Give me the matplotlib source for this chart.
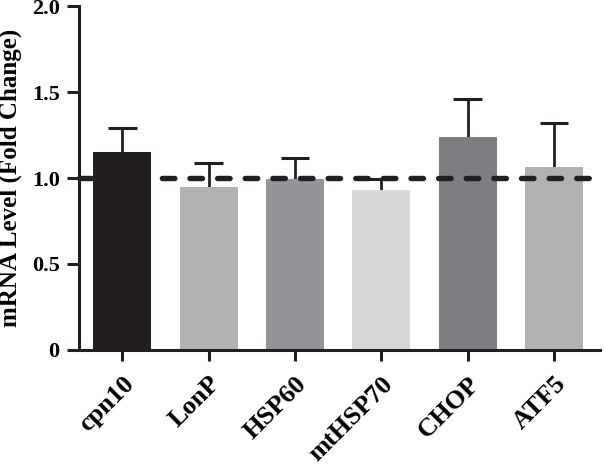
import matplotlib
matplotlib.use('Agg')
import matplotlib.pyplot as plt

genes = ['cpn10', 'LonP', 'HSP60', 'mtHSP70', 'CHOP', 'ATF5']
fold_change = [1.153, 0.95, 0.992, 0.93, 1.238, 1.066]
sem = [0.136, 0.135, 0.122, 0.064, 0.222, 0.252]
bar_colors = ['#231f20', '#b1b2b4', '#939598', '#d7d8da', '#7d7e82', '#b1b2b4']
yticks = [0, 0.5, 1.0, 1.5, 2.0]
ytick_labels = ['0', '0.5', '1.0', '1.5', '2.0']

plt.rcParams['font.family'] = ['Liberation Serif', 'DejaVu Serif']
plt.rcParams['font.weight'] = 'bold'

fig = plt.figure(figsize=(6.04, 4.66), dpi=100)
ax = fig.add_axes([0.131, 0.249, 0.862, 0.738])

x = list(range(len(genes)))
ax.bar(x, fold_change, width=0.67, color=bar_colors, zorder=2)
# only the upper half of each error bar is shown
tops = [v + e for v, e in zip(fold_change, sem)]
ax.vlines(x, fold_change, tops, color='#231f20', lw=2, zorder=1)
ax.hlines(tops, [i - 0.165 for i in x], [i + 0.165 for i in x],
          color='#231f20', lw=2.2, zorder=1)
ax.axhline(1.0, color='#231f20', lw=3.9, ls=(0, (2.3, 2.8)),
           dash_capstyle='round', zorder=3, clip_on=False)

ax.set_xlim(-0.5, 5.53)
ax.set_ylim(0, 2.0)
ax.set_yticks(yticks)
ax.set_yticklabels(ytick_labels, fontsize=16, fontweight='bold')
ax.set_xticks(x)
ax.set_xticklabels(genes, rotation=45, ha='right', rotation_mode='anchor',
                   fontsize=19, fontweight='bold')
ax.set_ylabel('mRNA Level (Fold Change)', fontsize=18, fontweight='bold', labelpad=7)

for side in ['top', 'right']:
    ax.spines[side].set_visible(False)
for side in ['left', 'bottom']:
    ax.spines[side].set_linewidth(2.2)
    ax.spines[side].set_color('#231f20')
ax.tick_params(axis='y', length=9, width=2.2, color='#231f20', pad=5)
ax.tick_params(axis='x', length=8, width=2.2, color='#231f20', pad=8)

plt.savefig('out.png', dpi=100)
